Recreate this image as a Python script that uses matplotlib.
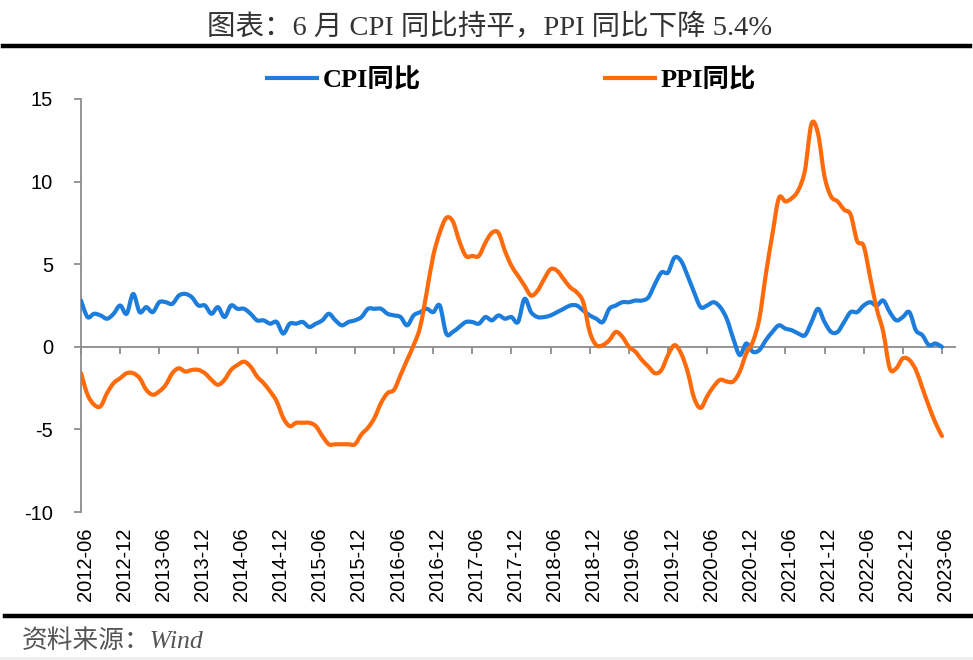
import numpy as np
import pandas as pd
import matplotlib
matplotlib.use("Agg")
import matplotlib.pyplot as plt
from matplotlib.path import Path
from matplotlib.patches import PathPatch, Rectangle
from matplotlib.lines import Line2D
import matplotlib.transforms as mtransforms

# ---------------- data (monthly, 2012-06 .. 2023-06) ----------------
start_month = "2012-06"
end_month = "2023-06"

cpi = [2.8, 1.8, 2.0, 1.9, 1.7, 2.0, 2.5,
       2.0, 3.2, 2.1, 2.4, 2.1, 2.7, 2.7, 2.6, 3.1, 3.2, 3.0, 2.5,
       2.5, 2.0, 2.4, 1.8, 2.5, 2.3, 2.3, 2.0, 1.6, 1.6, 1.4, 1.5,
       0.8, 1.4, 1.4, 1.5, 1.2, 1.4, 1.6, 2.0, 1.6, 1.3, 1.5, 1.6,
       1.8, 2.3, 2.3, 2.3, 2.0, 1.9, 1.8, 1.3, 1.9, 2.1, 2.3, 2.1,
       2.5, 0.8, 0.9, 1.2, 1.5, 1.5, 1.4, 1.8, 1.6, 1.9, 1.7, 1.8,
       1.5, 2.9, 2.1, 1.8, 1.8, 1.9, 2.1, 2.3, 2.5, 2.5, 2.2, 1.9,
       1.7, 1.5, 2.3, 2.5, 2.7, 2.7, 2.8, 2.8, 3.0, 3.8, 4.5, 4.5,
       5.4, 5.2, 4.3, 3.3, 2.4, 2.5, 2.7, 2.4, 1.7, 0.5, -0.5, 0.2,
       -0.3, -0.2, 0.4, 0.9, 1.3, 1.1, 1.0, 0.8, 0.7, 1.5, 2.3, 1.5,
       0.9, 0.9, 1.5, 2.1, 2.1, 2.5, 2.7, 2.5, 2.8, 2.1, 1.6, 1.8,
       2.1, 1.0, 0.7, 0.1, 0.2, 0.0]

ppi = [-1.6, -2.9, -3.5, -3.6, -2.8, -2.2, -1.9,
       -1.6, -1.6, -1.9, -2.6, -2.9, -2.7, -2.3, -1.6, -1.3, -1.5, -1.4, -1.4,
       -1.6, -2.0, -2.3, -2.0, -1.4, -1.1, -0.9, -1.2, -1.8, -2.2, -2.7, -3.3,
       -4.3, -4.8, -4.6, -4.6, -4.6, -4.8, -5.4, -5.9, -5.9, -5.9, -5.9, -5.9,
       -5.3, -4.9, -4.3, -3.4, -2.8, -2.6, -1.7, -0.8, 0.1, 1.2, 3.3, 5.5,
       6.9, 7.8, 7.6, 6.4, 5.5, 5.5, 5.5, 6.3, 6.9, 6.9, 5.8, 4.9,
       4.3, 3.7, 3.1, 3.4, 4.1, 4.7, 4.6, 4.1, 3.6, 3.3, 2.7, 0.9,
       0.1, 0.1, 0.4, 0.9, 0.6, 0.0, -0.3, -0.8, -1.2, -1.6, -1.4, -0.5,
       0.1, -0.4, -1.5, -3.1, -3.7, -3.0, -2.4, -2.0, -2.1, -2.1, -1.5, -0.4,
       0.3, 1.7, 4.4, 6.8, 9.0, 8.8, 9.0, 9.5, 10.7, 13.5, 12.9, 10.3,
       9.1, 8.8, 8.3, 8.0, 6.4, 6.1, 4.2, 2.3, 0.9, -1.3, -1.3, -0.7,
       -0.8, -1.4, -2.5, -3.6, -4.6, -5.4]

series_names = ["CPI同比", "PPI同比"]
y_ticks = [-10, -5, 0, 5, 10, 15]

months = pd.period_range(start_month, end_month, freq="M")
month_labels = [p.strftime("%Y-%m") for p in months]
x = np.arange(len(months))
tick_idx = x[::6]
tick_labels = [month_labels[i] for i in tick_idx]

BLUE = "#1C7DDC"
ORANGE = "#FF6A0A"
AXC = "#8C8C8C"

CJK = "Noto Sans CJK SC"


def smooth_path(xs, ys):
    pts = np.column_stack([xs, ys]).astype(float)
    n = len(pts)
    verts = [pts[0]]
    codes = [Path.MOVETO]
    for i in range(n - 1):
        p0 = pts[i - 1] if i > 0 else pts[i]
        p1 = pts[i]
        p2 = pts[i + 1]
        p3 = pts[i + 2] if i + 2 < n else pts[i + 1]
        c1 = p1 + (p2 - p0) / 6.0
        c2 = p2 - (p3 - p1) / 6.0
        verts += [c1, c2, p2]
        codes += [Path.CURVE4] * 3
    return Path(verts, codes)


W, H = 973, 660
fig = plt.figure(figsize=(W / 100, H / 100), dpi=100)
fig.patch.set_facecolor("white")

ax = fig.add_axes([81 / W, 148 / H, 874 / W, 413 / H])
ax.set_xlim(0, 134)
ax.set_ylim(-10, 15)

for vals, col in [(cpi, BLUE), (ppi, ORANGE)]:
    patch = PathPatch(smooth_path(x, vals), facecolor="none", edgecolor=col,
                      lw=3.0, capstyle="round", joinstyle="round", zorder=3)
    ax.add_patch(patch)

# spines
for s in ["top", "right", "bottom"]:
    ax.spines[s].set_visible(False)
ax.spines["left"].set_color(AXC)
ax.spines["left"].set_linewidth(1.3)

# y axis
ax.set_yticks(y_ticks)
ax.set_yticklabels([str(v) for v in y_ticks], family="Liberation Sans",
                   fontsize=14.5, color="black")
ax.tick_params(axis="y", direction="out", length=5, width=1.3, color=AXC, pad=15)

# x labels at bottom
ax.set_xticks(tick_idx)
ax.set_xticklabels(tick_labels, rotation=90, family="Liberation Sans",
                   fontsize=14.5, color="black", va="top", ha="center")
ax.tick_params(axis="x", length=0, pad=11)
offset = mtransforms.ScaledTranslation(4 / 100, 0, fig.dpi_scale_trans)
for lab in ax.get_xticklabels():
    lab.set_transform(lab.get_transform() + offset)

# zero axis line with tick marks
zero_frac = (0 - (-10)) / 25
sec = ax.secondary_xaxis(zero_frac)
sec.set_xticks(tick_idx)
sec.set_xticklabels([])
sec.spines["bottom"].set_color(AXC)
sec.spines["bottom"].set_linewidth(1.3)
sec.tick_params(axis="x", direction="out", length=5, width=1.3, color=AXC)

# legend
handles = [Line2D([], [], color=BLUE, lw=3.0),
           Line2D([], [], color=ORANGE, lw=3.0)]
leg = fig.legend(handles, series_names, loc="center",
                 bbox_to_anchor=(511.5 / W, 1 - 80 / H), ncol=2, frameon=False,
                 prop={"family": ["Liberation Serif", CJK], "weight": "bold", "size": 19},
                 handlelength=1.9, handletextpad=0.2, columnspacing=7.0)

# title
fig.text(490 / W, 1 - 28 / H, "图表：6 月 CPI 同比持平，PPI 同比下降 5.4%",
         ha="center", va="center", fontsize=20.5, color="#333333",
         family=["Liberation Serif", CJK])

# rules
fig.add_artist(Line2D([3 / W, 970 / W], [1 - 46 / H, 1 - 46 / H],
                      transform=fig.transFigure, color="black", lw=3.2))
fig.add_artist(Line2D([5 / W, 972 / W], [1 - 616 / H, 1 - 616 / H],
                      transform=fig.transFigure, color="black", lw=3.2))

# source
fig.text(22 / W, 1 - 641 / H, "资料来源：Wind", ha="left", va="center",
         fontsize=18.5, color="#555555", style="italic",
         family=["Liberation Serif", CJK])

fig.add_artist(Rectangle((0, 0), 1, 3 / H, transform=fig.transFigure,
                         facecolor="#EFEFEF", edgecolor="none"))

fig.savefig("out.png", dpi=100)
